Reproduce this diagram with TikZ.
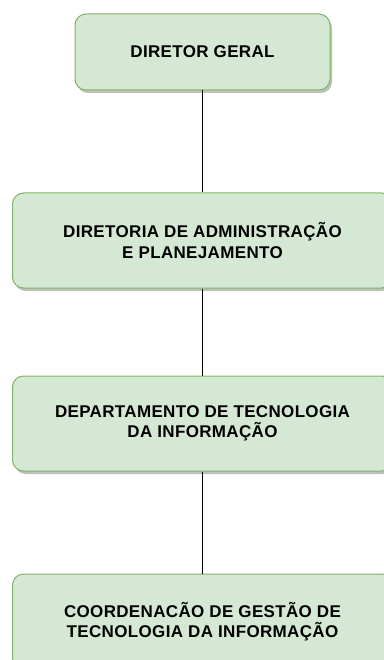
\documentclass[tikz,border=0pt]{standalone}
\usepackage{fontspec}
\setmainfont{Liberation Sans}[LetterSpace=2]
\usepackage{tikz}
\usetikzlibrary{positioning, shadows}
\definecolor{caixaverde}{HTML}{D5E8D4}
\definecolor{bordaverde}{HTML}{82B366}
\tikzset{
every node/.style={font=\fontsize{17}{20.5}\selectfont\bfseries}, % bold text in every box
cargo/.style={draw=bordaverde, fill=caixaverde, line width=1pt, rounded corners=11pt, align=center, inner sep=0pt,
 drop shadow={shadow xshift=2pt, shadow yshift=-3pt, fill=black, opacity=0.25}}, % the boxes of the chart
topo/.style={cargo, minimum width=255pt, minimum height=76pt}, % the top box
setor/.style={cargo, minimum width=380pt, minimum height=95pt}, % the lower boxes
liga/.style={draw=black, line width=1pt}, % the lines between the boxes
}
\begin{document}
\begin{tikzpicture}
                \useasboundingbox (0pt,0pt) rectangle (383pt,-660pt);
                \node[topo] (dg) at (202.5pt,-52pt) {DIRETOR GERAL};
                \node[setor, below=102pt of dg] (dap) {DIRETORIA DE ADMINISTRAÇÃO\\E PLANEJAMENTO};
                \node[setor, below=87pt of dap] (dti) {DEPARTAMENTO DE TECNOLOGIA\\DA INFORMAÇÃO};
                \node[setor, below=102pt of dti] (cgti) {COORDENACÃO DE GESTÃO DE\\TECNOLOGIA DA INFORMAÇÃO};
                \draw[liga]
                    (dg) -- (dap)
                    (dap) -- (dti)
                    (dti) -- (cgti)
                    ;
                \end{tikzpicture}
\end{document}
